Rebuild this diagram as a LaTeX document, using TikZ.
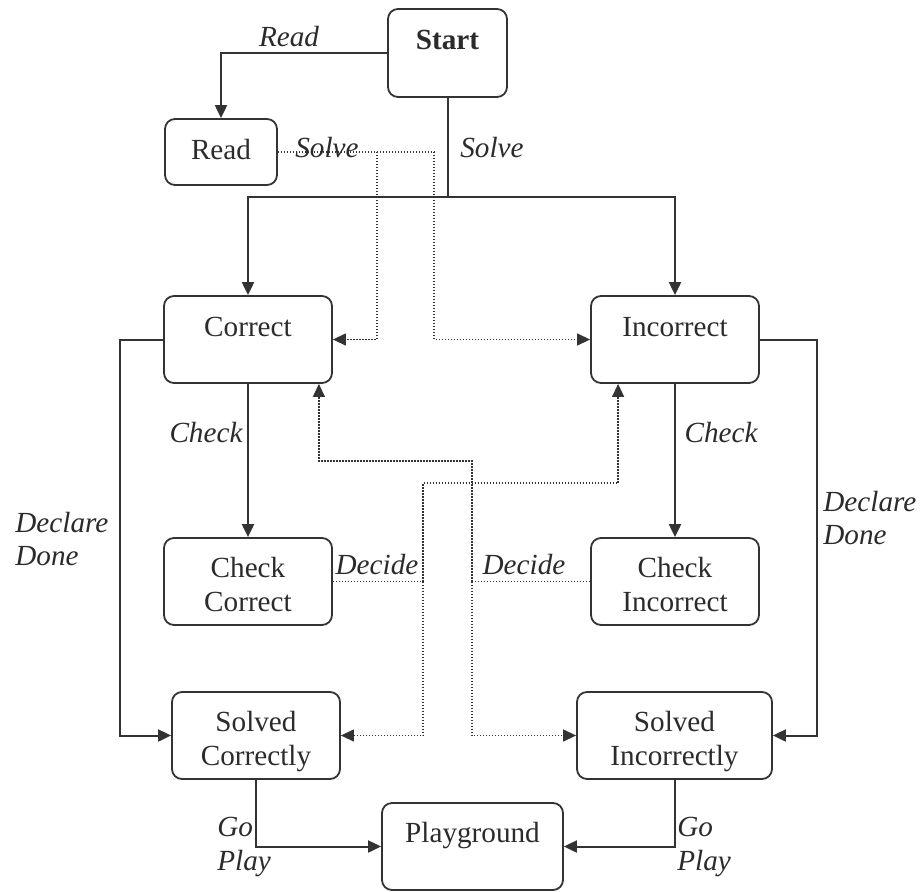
\documentclass[tikz,border=0pt]{standalone}
\usepackage{fontspec}
\setmainfont{Liberation Serif}
\usetikzlibrary{arrows.meta}
\definecolor{ink}{HTML}{2B2B2B}
\definecolor{lnc}{HTML}{333333}
\newcommand{\bxt}[1]{\begin{tabular}[t]{@{}c@{}}#1\end{tabular}}
\begin{document}
\begin{tikzpicture}[x=0.5pt,y=-0.5pt,
  font=\fontsize{14.6pt}{17pt}\selectfont, text=ink,
  box/.style={draw=lnc, line width=0.9pt, rounded corners=5pt, inner xsep=0pt, inner ysep=0pt,
              text height=20.25pt, text depth=23.25pt, minimum width=84pt},
  lab/.style={inner sep=0pt, font=\fontsize{14.6pt}{17pt}\selectfont\itshape},
  ln/.style={draw=lnc, line width=1pt},
  arr/.style={ln, -{Triangle[length=6.5pt,width=6pt]}},
  dt/.style={draw=lnc, line width=0.65pt, dash pattern=on 0.65pt off 0.85pt},
  dtarr/.style={dt, -{Triangle[length=6.5pt,width=6pt]}}]
\useasboundingbox (0,0) rectangle (922,891);

% boxes
\node[box, minimum width=59.5pt, text depth=23.75pt] (start) at (447.5,53) {\bxt{\textbf{Start}}};
\node[box, minimum width=56pt, text depth=12.75pt] (read) at (221,152) {\bxt{Read}};
\node[box] (cor) at (248,339.5) {\bxt{Correct}};
\node[box] (inc) at (675,339.5) {\bxt{Incorrect}};
\node[box, text height=19.5pt, text depth=24pt] (chc) at (248,581.5) {\bxt{Check\\Correct}};
\node[box, text height=19.5pt, text depth=24pt] (chi) at (675,581.5) {\bxt{Check\\Incorrect}};
\node[box, text height=19.75pt, text depth=23.75pt] (solc) at (256,735.5) {\bxt{Solved\\Correctly}};
\node[box, minimum width=97.5pt, text height=19.75pt, text depth=23.75pt] (soli) at (674.5,735.5) {\bxt{Solved\\Incorrectly}};
\node[box, minimum width=90.5pt, text height=19.75pt, text depth=23.75pt] (play) at (472.5,846.5) {\bxt{Playground}};

% solid connectors
\draw[arr] (start.west) -| (read.north);
\coordinate (sj) at (447.5,197);
\draw[ln] (start.south) -- (sj);
\draw[arr] (sj) -| (cor.north);
\draw[arr] (sj) -| (inc.north);
\draw[arr] (cor.west) -- ++(-43,0) |- (solc.west);
\draw[arr] (inc.east) -- ++(57,0) |- (soli.east);
\draw[arr] (cor.south) -- (chc.north);
\draw[arr] (inc.south) -- (chi.north);
\draw[arr] (solc.south) |- (play.west);
\draw[arr] (soli.south) |- (play.east);

% dotted connectors
\coordinate (rs1) at (377,152);
\coordinate (rs2) at (434,152);
\draw[dt] (read.east) -- (rs2);
\draw[dtarr] (rs1) |- (cor.east);
\draw[dtarr] (rs2) |- (inc.west);

\coordinate (dl) at (423,581.5);
\coordinate (dl2) at (423,483);
\draw[dt] (chc.east) -- (dl);
\draw[dtarr] (dl) |- (solc.east);
\draw[dtarr] (dl) -- (dl2) -| ([xshift=14pt]inc.south west);

\coordinate (dr) at (472,581.5);
\coordinate (dr2) at (472,461);
\draw[dt] (chi.west) -- (dr);
\draw[dtarr] (dr) |- (soli.west);
\draw[dtarr] (dr) -- (dr2) -| ([xshift=-7pt]cor.south east);

% labels
\node[lab] (lread) at (289,37) {Read};
\node[lab] (lsolve1) at (327,148) {Solve};
\node[lab] (lsolve2) at (492,148) {Solve};
\node[lab] (lcheck1) at (206,433) {Check};
\node[lab] (lcheck2) at (721,433) {Check};
\node[lab, anchor=west, align=left] (ldd1) at (15,539) {Declare\\Done};
\node[lab, anchor=west, align=left] (ldd2) at (823,518) {Declare\\Done};
\node[lab] (ldec1) at (377,565) {Decide};
\node[lab] (ldec2) at (524,565) {Decide};
\node[lab, anchor=west, align=left] (lgo1) at (217,846.5) {Go\\Play};
\node[lab, anchor=west, align=left] (lgo2) at (677,846.5) {Go\\Play};
\end{tikzpicture}
\end{document}
